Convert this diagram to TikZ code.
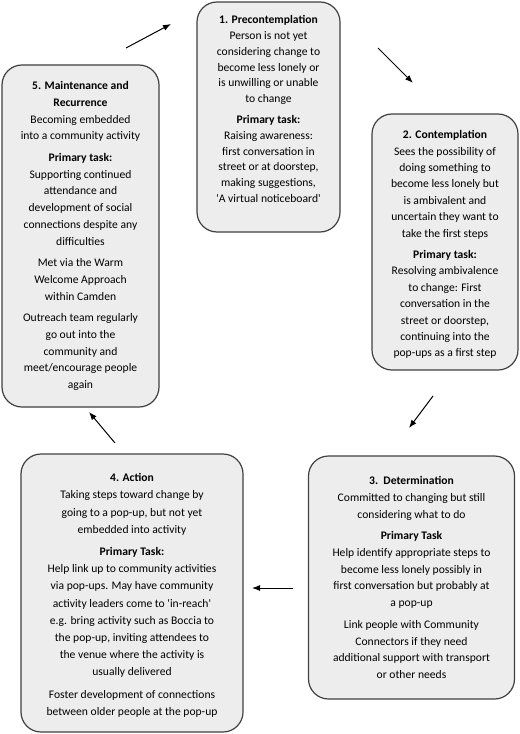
\documentclass[tikz,border=0pt]{standalone}
\usepackage{fontspec}
\setmainfont{Carlito}
\usetikzlibrary{arrows.meta}
\definecolor{boxgray}{HTML}{EDEDED}
\definecolor{edgegray}{HTML}{404040}
\tikzset{
  stagebox/.style={draw=edgegray, fill=boxgray, line width=1.2bp, rounded corners=20bp, inner sep=0pt},
  stagetext/.style={anchor=north, align=center, inner sep=0pt, font=\fontsize{11.6bp}{#1}\selectfont},
  cyclearrow/.style={line width=1bp, -{Latex[length=8bp,width=6bp]}}
}
\newcommand{\gap}{\\[5bp]}
\begin{document}
\begin{tikzpicture}[x=1bp, y=-1bp]
		%%%%% START %%%%%
		\useasboundingbox (0, 0) rectangle (520, 734);
		
		% the five stages
		\node[stagebox, minimum width=143bp, minimum height=230bp] (pre) at (268.5, 117) {};
		\node[stagebox, minimum width=146bp, minimum height=256bp] (con) at (445, 242) {};
		\node[stagebox, minimum width=206bp, minimum height=243bp] (det) at (411.5, 577.5) {};
		\node[stagebox, minimum width=222bp, minimum height=278bp] (act) at (132, 593) {};
		\node[stagebox, minimum width=157bp, minimum height=342bp] (mai) at (80.5, 236) {};
		
		\node[stagetext=15.8bp, yshift=-14bp] (pretext) at (pre.north) {\textbf{1. Precontemplation}\\
			Person is not yet\\ considering change to\\ become less lonely or\\ is unwilling or unable\\ to change\gap
			\textbf{Primary task:}\\ Raising awareness:\\ first conversation in\\ street or at doorstep,\\
			making suggestions,\\ \textquotesingle A virtual noticeboard\textquotesingle};
		
		\node[stagetext=16.4bp, yshift=-17bp] (context) at (con.north) {\textbf{2. Contemplation}\\
			Sees the possibility of\\ doing something to\\ become less lonely but\\ is ambivalent and\\
			uncertain they want to\\ take the first steps\gap
			\textbf{Primary task:}\\ Resolving ambivalence\\ to change: First\\ conversation in the\\
			street or doorstep,\\ continuing into the\\ pop-ups as a first step};
		
		\node[stagetext=16.7bp, yshift=-21bp] (dettext) at (det.north) {\textbf{3.\ \ Determination}\\
			Committed to changing but still\\ considering what to do\gap
			\textbf{Primary Task}\\ Help identify appropriate steps to\\ become less lonely possibly in\\
			first conversation but probably at\\ a pop-up\gap
			Link people with Community\\ Connectors if they need\\ additional support with transport\\ or other needs};
		
		\node[stagetext=17.2bp, yshift=-20bp] (acttext) at (act.north) {\textbf{4. Action}\\
			Taking steps toward change by\\ going to a pop-up, but not yet\\ embedded into activity\gap
			\textbf{Primary Task:}\\ Help link up to community activities\\ via pop-ups. May have community\\
			activity leaders come to \textquotesingle in-reach\textquotesingle\\ e.g. bring activity such as Boccia to\\
			the pop-up, inviting attendees to\\ the venue where the activity is\\ usually delivered\gap
			Foster development of connections\\ between older people at the pop-up};
		
		\node[stagetext=16.7bp, yshift=-17bp] (maitext) at (mai.north) {\textbf{5. Maintenance and}\\ \textbf{Recurrence}\\
			Becoming embedded\\ into a community activity\gap
			\textbf{Primary task:}\\ Supporting continued\\ attendance and\\ development of social\\
			connections despite any\\ difficulties\gap
			Met via the Warm\\ Welcome Approach\\ within Camden\gap
			Outreach team regularly\\ go out into the\\ community and\\ meet/encourage people\\ again};
		
		% arrows between the stages
		\coordinate (a1) at (126, 48);  \coordinate (b1) at (171, 24);
		\coordinate (a2) at (378, 48);  \coordinate (b2) at (413, 83);
		\coordinate (a3) at (433, 396); \coordinate (b3) at (409, 428);
		\coordinate (a4) at (293, 588); \coordinate (b4) at (252, 588);
		\coordinate (a5) at (115, 443); \coordinate (b5) at (89, 412);
		\foreach \i in {1,...,5}
			\draw[cyclearrow] (a\i) -- (b\i);
		
		%%%%% END %%%%%
\end{tikzpicture}
\end{document}
